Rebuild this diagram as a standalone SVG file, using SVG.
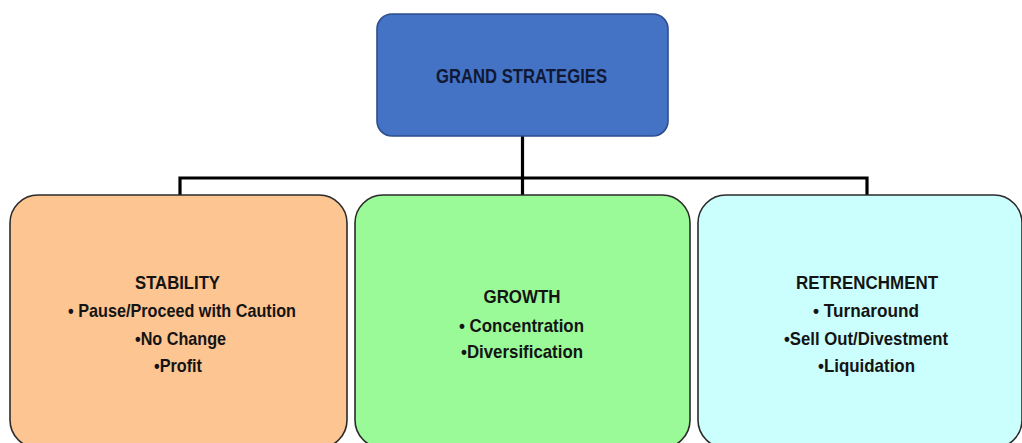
<svg xmlns="http://www.w3.org/2000/svg" width="1022" height="443" viewBox="0 0 1022 443">
  <style>
    .box { stroke: #2b2b2b; stroke-width: 1.6; }
    .lbl { font-family: "Liberation Sans", Arial, sans-serif; font-weight: bold; font-size: 19px; fill: #141414; text-anchor: middle; }
    .title { font-size: 20px; fill: #101833; }
    .wire { fill: none; stroke: #000; stroke-width: 3.2; }
  </style>
  <rect width="1022" height="443" fill="#ffffff"/>

  <!-- connectors -->
  <g id="connectors">
    <path class="wire" d="M522.5 136 V178"/>
    <path class="wire" d="M180 196 V178 H867 V196"/>
    <path class="wire" d="M522.5 178 V196"/>
  </g>

  <!-- root node -->
  <g id="grand-strategies">
    <rect x="377" y="14" width="291" height="122" rx="15" fill="#4472C4" stroke="#2E4E8C" stroke-width="1.6"/>
    <text class="lbl title" x="521.5" y="83" textLength="171" lengthAdjust="spacingAndGlyphs">GRAND STRATEGIES</text>
  </g>

  <!-- child nodes -->
  <g id="stability">
    <rect class="box" x="10" y="195" width="337" height="253" rx="28" fill="#FCC592"/>
    <text class="lbl" x="177.5" y="289" textLength="85" lengthAdjust="spacingAndGlyphs">STABILITY</text>
    <text class="lbl" x="182" y="317" textLength="228" lengthAdjust="spacingAndGlyphs">• Pause/Proceed with Caution</text>
    <text class="lbl" x="180.5" y="345" textLength="91" lengthAdjust="spacingAndGlyphs">•No Change</text>
    <text class="lbl" x="178" y="372" textLength="48" lengthAdjust="spacingAndGlyphs">•Profit</text>
  </g>

  <g id="growth">
    <rect class="box" x="355" y="195" width="335" height="253" rx="28" fill="#9BFA98"/>
    <text class="lbl" x="522" y="303" textLength="77" lengthAdjust="spacingAndGlyphs">GROWTH</text>
    <text class="lbl" x="521.5" y="332" textLength="125" lengthAdjust="spacingAndGlyphs">• Concentration</text>
    <text class="lbl" x="522" y="358" textLength="122" lengthAdjust="spacingAndGlyphs">•Diversification</text>
  </g>

  <g id="retrenchment">
    <rect class="box" x="698" y="195" width="324" height="253" rx="28" fill="#CBFFFE"/>
    <text class="lbl" x="867" y="289" textLength="142" lengthAdjust="spacingAndGlyphs">RETRENCHMENT</text>
    <text class="lbl" x="866" y="317" textLength="106" lengthAdjust="spacingAndGlyphs">• Turnaround</text>
    <text class="lbl" x="866" y="345" textLength="164" lengthAdjust="spacingAndGlyphs">•Sell Out/Divestment</text>
    <text class="lbl" x="866.5" y="372" textLength="97" lengthAdjust="spacingAndGlyphs">•Liquidation</text>
  </g>
</svg>
